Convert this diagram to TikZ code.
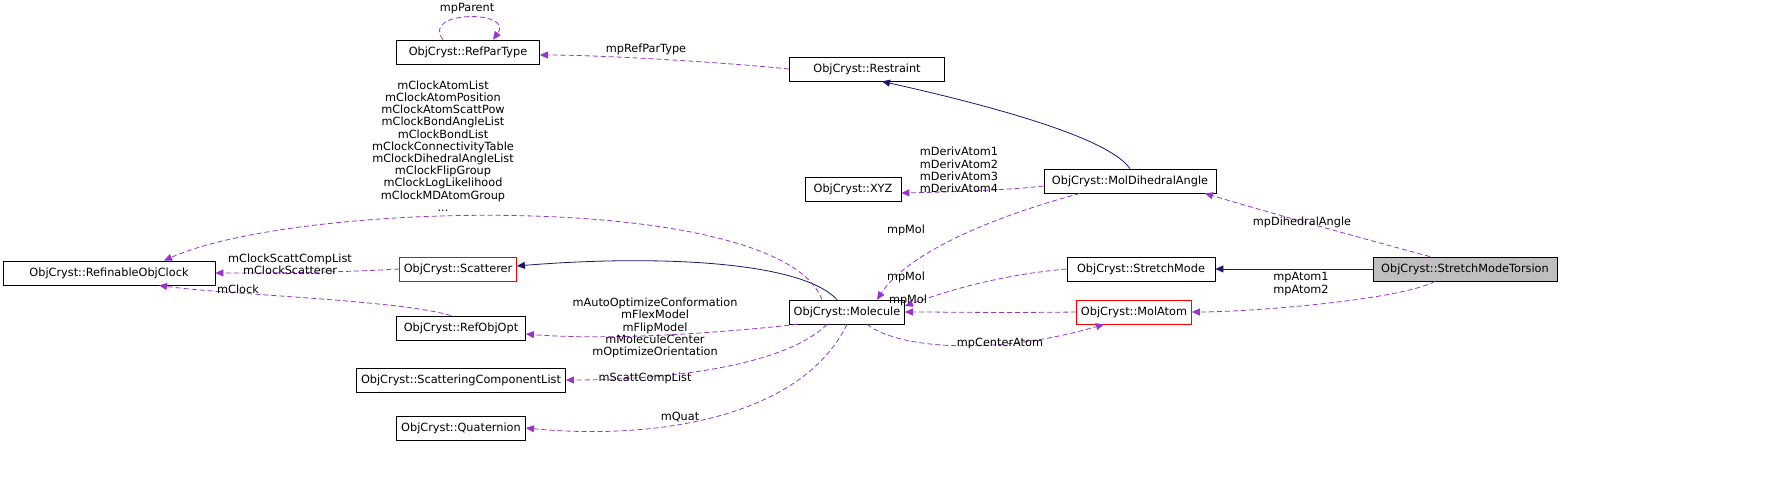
\documentclass[tikz,border=0pt]{standalone}
\usepackage{fontspec}
\setmainfont{DejaVu Sans}
\usetikzlibrary{arrows.meta,calc}
\definecolor{dep}{HTML}{9A32CD}
\definecolor{inh}{HTML}{191970}
\begin{document}
\begin{tikzpicture}[x=1pt,y=-1pt,
  cls/.style={draw,line width=0.8pt,inner sep=0pt,minimum height=24pt,font=\fontsize{11.3}{13}\selectfont},
  redcls/.style={cls,draw=red},
  usage/.style={dep,dashed,line width=0.8pt,dash pattern=on 5pt off 3pt,-{Triangle[length=8pt,width=7pt]}},
  isa/.style={inh,line width=0.8pt,-{Triangle[length=8pt,width=7pt]}},
  lbl/.style={font=\fontsize{11.3}{12.2}\selectfont,align=center,inner sep=0pt}]
\useasboundingbox (0,0) rectangle (1787,497);
\node[cls,minimum width=143pt] (rpt) at (468,52) {ObjCryst::RefParType};
\node[cls,minimum width=155pt] (res) at (867,69) {ObjCryst::Restraint};
\node[cls,minimum width=96pt] (xyz) at (853,189) {ObjCryst::XYZ};
\node[cls,minimum width=172pt] (mda) at (1130,181) {ObjCryst::MolDihedralAngle};
\node[cls,minimum width=212pt] (roc) at (109,273) {ObjCryst::RefinableObjClock};
\node[redcls,minimum width=117pt] (sca) at (458,269) {ObjCryst::Scatterer};
\node[cls,minimum width=148pt] (sm) at (1141,269) {ObjCryst::StretchMode};
\node[cls,minimum width=184pt,fill={rgb,255:red,191;green,191;blue,191}] (smt) at (1465,269) {ObjCryst::StretchModeTorsion};
\node[cls,minimum width=115pt] (mol) at (847,312) {ObjCryst::Molecule};
\node[redcls,minimum width=115pt] (ma) at (1134,312) {ObjCryst::MolAtom};
\node[cls,minimum width=129pt] (roo) at (461,328) {ObjCryst::RefObjOpt};
\node[cls,minimum width=209pt] (scl) at (461,380) {ObjCryst::ScatteringComponentList};
\node[cls,minimum width=129pt] (qua) at (461,428) {ObjCryst::Quaternion};
% edges
\draw[usage] ($(rpt.north)+(-25,0)$) .. controls (420,10) and (515,10) .. ($(rpt.north)+(25,0)$);
\node[lbl] (l0) at (467,9) {mpParent};
\draw[usage] (res.west) .. controls (720,62) and (600,55) .. ($(rpt.east)+(0,3)$);
\node[lbl] (l1) at (646,49) {mpRefParType};
\draw[isa] (mda.north) .. controls (1110,140) and (1010,110) .. ($(res.south)+(15,0)$);
\draw[usage] ($(mda.west)+(0,5)$) .. controls (1010,190) and (950,192) .. ($(xyz.east)+(0,4)$);
\node[lbl] (l2) at (959,170) {mDerivAtom1\\mDerivAtom2\\mDerivAtom3\\mDerivAtom4};
\draw[usage] ($(smt.north)+(-35,0)$) .. controls (1350,235) and (1260,210) .. ($(mda.south)+(75,0)$);
\node[lbl] (l3) at (1302,222) {mpDihedralAngle};
\draw[isa] (smt.west) -- (sm.east);
\draw[usage] ($(smt.south)+(-30,0)$) .. controls (1400,300) and (1250,312) .. (ma.east);
\node[lbl] (l4) at (1301,284) {mpAtom1\\mpAtom2};
\draw[usage] ($(mda.south)+(-50,0)$) .. controls (1000,215) and (910,250) .. ($(mol.north)+(30,0)$);
\node[lbl] (l5) at (906,230) {mpMol};
\draw[usage] (sm.west) .. controls (1000,275) and (950,290) .. ($(mol.east)+(0,-6)$);
\node[lbl] (l6) at (906,277) {mpMol};
\draw[usage] (ma.west) .. controls (1000,313) and (950,312) .. (mol.east);
\node[lbl] (l7) at (908,300) {mpMol};
\draw[usage] ($(mol.south)+(20,0)$) .. controls (900,350) and (1000,355) .. ($(ma.south)+(-30,0)$);
\node[lbl] (l8) at (1000,343) {mpCenterAtom};
\draw[isa] ($(mol.north)+(-10,0)$) .. controls (800,260) and (650,255) .. ($(sca.east)+(0,-3)$);
\draw[usage] ($(mol.north)+(-25,0)$) .. controls (780,190) and (300,200) .. ($(roc.north)+(55,0)$);
\node[lbl] (l9) at (443,146) {mClockAtomList\\mClockAtomPosition\\mClockAtomScattPow\\mClockBondAngleList\\mClockBondList\\mClockConnectivityTable\\mClockDihedralAngleList\\mClockFlipGroup\\mClockLogLikelihood\\mClockMDAtomGroup\\...};
\draw[usage] (sca.west) .. controls (330,273) and (270,273) .. (roc.east);
\node[lbl] (l10) at (290,264) {mClockScattCompList\\mClockScatterer};
\draw[usage] ($(roo.north)+(-10,0)$) .. controls (400,300) and (230,295) .. ($(roc.south)+(50,0)$);
\node[lbl] (l11) at (238,289) {mClock};
\draw[usage] ($(mol.south)+(-50,0)$) .. controls (700,335) and (600,340) .. ($(roo.east)+(0,6)$);
\node[lbl] (l12) at (655,328) {mAutoOptimizeConformation\\mFlexModel\\mFlipModel\\mMoleculeCenter\\mOptimizeOrientation};
\draw[usage] ($(mol.south)+(-20,0)$) .. controls (780,370) and (650,380) .. (scl.east);
\node[lbl] (l13) at (645,378) {mScattCompList};
\draw[usage] (mol.south) .. controls (800,420) and (650,440) .. (qua.east);
\node[lbl] (l14) at (680,417) {mQuat};
\end{tikzpicture}
\end{document}
